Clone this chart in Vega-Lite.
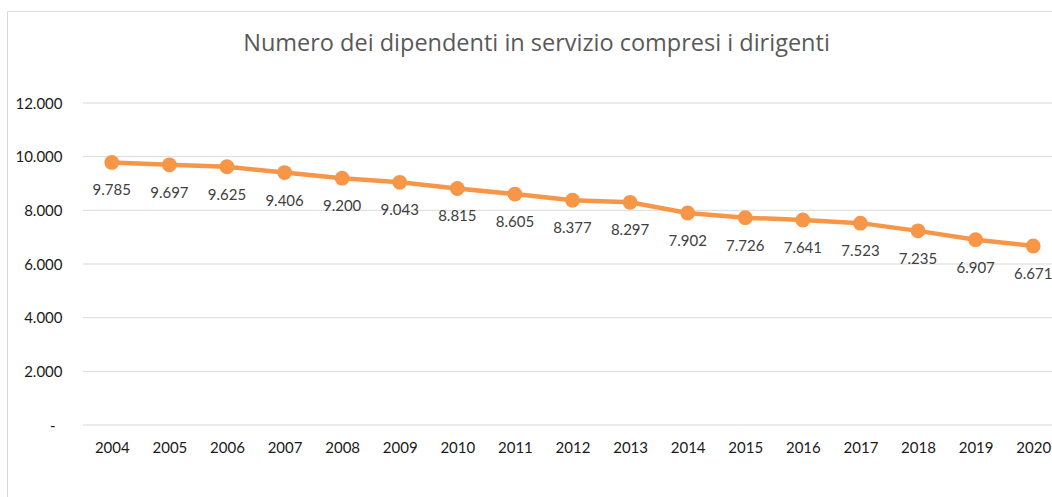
{
  "$schema": "https://vega.github.io/schema/vega-lite/v6.json",
  "autosize": {"type": "none"},
  "width": 1045,
  "height": 486,
  "padding": {"left": 7, "top": 11, "right": 0, "bottom": 0},
  "background": "white",
  "config": {
    "locale": {"number": {"decimal": ",", "thousands": ".", "grouping": [3], "currency": ["", " €"]}},
    "view": {"stroke": "#D9D9D9", "strokeWidth": 1},
    "font": "Lato"
  },
  "title": {
    "text": "Numero dei dipendenti in servizio compresi i dirigenti",
    "font": "Open Sans",
    "fontSize": 23.5,
    "fontWeight": "normal",
    "color": "#595959",
    "anchor": "middle",
    "frame": "group",
    "baseline": "alphabetic",
    "offset": -63,
    "dx": 7
  },
  "datasets": {
    "staff": [
      {"year": "2004", "n": 9785},
      {"year": "2005", "n": 9697},
      {"year": "2006", "n": 9625},
      {"year": "2007", "n": 9406},
      {"year": "2008", "n": 9200},
      {"year": "2009", "n": 9043},
      {"year": "2010", "n": 8815},
      {"year": "2011", "n": 8605},
      {"year": "2012", "n": 8377},
      {"year": "2013", "n": 8297},
      {"year": "2014", "n": 7902},
      {"year": "2015", "n": 7726},
      {"year": "2016", "n": 7641},
      {"year": "2017", "n": 7523},
      {"year": "2018", "n": 7235},
      {"year": "2019", "n": 6907},
      {"year": "2020", "n": 6671}
    ],
    "grid": [
      {"v": 0}, {"v": 2000}, {"v": 4000}, {"v": 6000}, {"v": 8000}, {"v": 10000}, {"v": 12000}
    ]
  },
  "layer": [
    {
      "data": {"name": "grid"},
      "mark": {"type": "rule", "color": "#D9D9D9", "strokeWidth": 1, "xOffset": -28.8},
      "encoding": {
        "x": {"datum": "2004", "type": "ordinal"},
        "x2": {"value": "width"},
        "y": {"field": "v", "type": "quantitative"}
      }
    },
    {
      "data": {"name": "staff"},
      "encoding": {
        "x": {
          "field": "year",
          "type": "ordinal",
          "title": null,
          "scale": {"type": "point", "padding": 0.5, "range": [76, 1055]},
          "axis": {
            "orient": "bottom",
            "offset": -61,
            "domain": false,
            "ticks": false,
            "grid": false,
            "labelAngle": 0,
            "labelAlign": "center",
            "labelBaseline": "top",
            "labelPadding": 4,
            "labelFont": "Lato",
            "labelFontSize": 15,
            "labelColor": "#1a1a1a",
            "labelOverlap": false
          }
        },
        "y": {
          "field": "n",
          "type": "quantitative",
          "title": null,
          "scale": {"domain": [0, 12000], "range": [414, 92], "nice": false, "zero": true},
          "axis": {
            "values": [0, 2000, 4000, 6000, 8000, 10000, 12000],
            "offset": -76,
            "domain": false,
            "ticks": false,
            "grid": false,
            "labelPadding": {"condition": {"test": "datum.value === 0", "value": 28}, "value": 21},
            "labelFont": "Lato",
            "labelFontSize": 15,
            "labelColor": "#1a1a1a",
            "labelExpr": "datum.value === 0 ? '-' : format(datum.value, ',')"
          }
        }
      },
      "layer": [
        {"mark": {"type": "line", "color": "#F79646", "strokeWidth": 4.5}},
        {"mark": {"type": "circle", "color": "#F79646", "opacity": 1, "size": 220}},
        {
          "mark": {"type": "text", "dy": 28, "baseline": "middle", "align": "center", "font": "Lato", "fontSize": 15, "color": "#404040"},
          "encoding": {"text": {"field": "n", "type": "quantitative", "format": ",d"}}
        }
      ]
    }
  ]
}
